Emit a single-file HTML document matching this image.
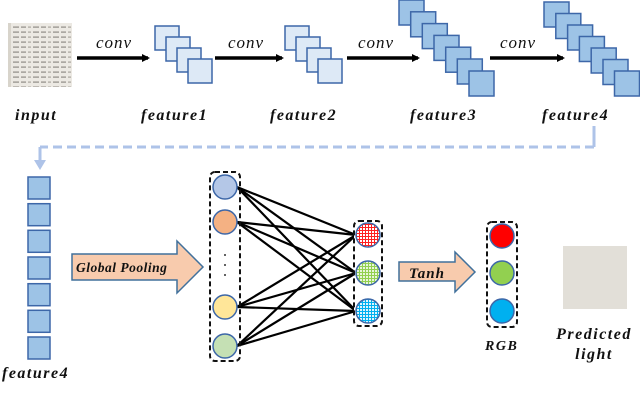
<!DOCTYPE html>
<html><head><meta charset="utf-8"><style>
html,body{margin:0;padding:0;background:#fff;width:640px;height:405px;overflow:hidden}
svg{display:block}
.lbl{font-family:"Liberation Serif",serif;font-style:italic;font-weight:bold;font-size:16px;fill:#111;letter-spacing:1.5px}
.conv{font-family:"Liberation Serif",serif;font-style:italic;font-size:17px;fill:#111;letter-spacing:1px}
</style></head><body>
<svg width="640" height="405" viewBox="0 0 640 405" xmlns="http://www.w3.org/2000/svg">
<defs>
<marker id="ah" markerWidth="8" markerHeight="8" refX="6" refY="4" orient="auto" markerUnits="userSpaceOnUse"><path d="M0,0 L8,4 L0,8 z" fill="#000"/></marker>
<pattern id="pr" width="3" height="3" patternUnits="userSpaceOnUse"><rect width="3" height="3" fill="#ff2020"/><rect x="0" y="0" width="2" height="2" fill="#fff"/></pattern>
<pattern id="pg" width="3" height="3" patternUnits="userSpaceOnUse"><rect width="3" height="3" fill="#92d050"/><rect x="0" y="0" width="2" height="2" fill="#e8f5dc"/></pattern>
<pattern id="pb" width="3" height="3" patternUnits="userSpaceOnUse"><rect width="3" height="3" fill="#00b0f0"/><rect x="0" y="0" width="2" height="2" fill="#e0f4fc"/></pattern>
<pattern id="txt" width="20" height="5" patternUnits="userSpaceOnUse"><rect width="20" height="5" fill="#ece9e3"/><rect x="1" y="1.5" width="5" height="1.2" fill="#8f8c86"/><rect x="8" y="1.5" width="3" height="1.2" fill="#a9a59e"/><rect x="13" y="1.5" width="6" height="1.2" fill="#8f8c86"/></pattern>
</defs>
<!-- input image -->
<rect x="8" y="23" width="64" height="64" fill="url(#txt)"/>
<rect x="8" y="23" width="3" height="64" fill="#d8d4cb"/>
<!-- arrows -->
<g stroke="#000" stroke-width="3.5" marker-end="url(#ah)">
<line x1="77" y1="58" x2="148" y2="58"/>
<line x1="215" y1="58" x2="282" y2="58"/>
<line x1="347" y1="58" x2="418" y2="58"/>
<line x1="490" y1="58" x2="563" y2="58"/>
</g>
<text class="conv" x="96" y="48">conv</text>
<text class="conv" x="228" y="48">conv</text>
<text class="conv" x="358" y="48">conv</text>
<text class="conv" x="500" y="48">conv</text>
<g fill="#dde9f6" stroke="#3d67a8" stroke-width="1.5">
<rect x="155" y="26" width="24" height="24"/><rect x="166" y="37" width="24" height="24"/><rect x="177" y="48" width="24" height="24"/><rect x="188" y="59" width="24" height="24"/>
<rect x="285" y="26" width="24" height="24"/><rect x="296" y="37" width="24" height="24"/><rect x="307" y="48" width="24" height="24"/><rect x="318" y="59" width="24" height="24"/>
</g>
<g fill="#9dc3e6" stroke="#3d67a8" stroke-width="1.5">
<rect x="399" y="0" width="25" height="25"/><rect x="410.7" y="11.8" width="25" height="25"/><rect x="422.3" y="23.6" width="25" height="25"/><rect x="434" y="35.4" width="25" height="25"/><rect x="445.7" y="47.2" width="25" height="25"/><rect x="457.3" y="59" width="25" height="25"/><rect x="469" y="71" width="25" height="25"/>
<rect x="544" y="2" width="25" height="25"/><rect x="555.8" y="13.5" width="25" height="25"/><rect x="567.6" y="25" width="25" height="25"/><rect x="579.4" y="36.5" width="25" height="25"/><rect x="591.2" y="48" width="25" height="25"/><rect x="603" y="59.5" width="25" height="25"/><rect x="614.5" y="71" width="25" height="25"/>
</g>
<text class="lbl" x="15" y="120">input</text>
<text class="lbl" x="141" y="120">feature1</text>
<text class="lbl" x="270" y="120">feature2</text>
<text class="lbl" x="410" y="120">feature3</text>
<text class="lbl" x="542" y="120">feature4</text>
<g stroke="#aec3e8" stroke-width="3" fill="none">
<line x1="594" y1="126" x2="594" y2="147"/>
<line x1="594" y1="147" x2="40" y2="147" stroke-dasharray="9,5"/>
<line x1="40" y1="147" x2="40" y2="162"/>
</g>
<path d="M34,160 L46,160 L40,170 z" fill="#aec3e8"/>
<g fill="#9dc3e6" stroke="#3d67a8" stroke-width="1.5">
<rect x="28" y="177" width="22" height="22"/><rect x="28" y="203.7" width="22" height="22"/><rect x="28" y="230.3" width="22" height="22"/><rect x="28" y="257" width="22" height="22"/><rect x="28" y="283.7" width="22" height="22"/><rect x="28" y="310.3" width="22" height="22"/><rect x="28" y="337" width="22" height="22"/>
</g>
<text class="lbl" x="2" y="378">feature4</text>
<path d="M72,254 L177,254 L177,241 L203,267 L177,293 L177,280 L72,280 z" fill="#f8cbad" stroke="#41719c" stroke-width="1.5"/>
<text x="76" y="272" style="font-family:'Liberation Serif',serif;font-style:italic;font-weight:bold;font-size:13.5px;fill:#111;letter-spacing:0.5px">Global Pooling</text>
<g stroke="#000" stroke-width="2.2">
<line x1="237" y1="187" x2="356" y2="235"/><line x1="237" y1="187" x2="356" y2="273"/><line x1="237" y1="187" x2="356" y2="311"/>
<line x1="237" y1="222" x2="356" y2="235"/><line x1="237" y1="222" x2="356" y2="273"/><line x1="237" y1="222" x2="356" y2="311"/>
<line x1="237" y1="307" x2="356" y2="235"/><line x1="237" y1="307" x2="356" y2="273"/><line x1="237" y1="307" x2="356" y2="311"/>
<line x1="237" y1="346" x2="356" y2="235"/><line x1="237" y1="346" x2="356" y2="273"/><line x1="237" y1="346" x2="356" y2="311"/>
</g>
<rect x="210" y="172" width="30" height="189" rx="5" fill="none" stroke="#111" stroke-width="2" stroke-dasharray="5,3"/>
<g stroke="#3d67a8" stroke-width="1.5">
<circle cx="225" cy="187" r="12" fill="#b4c7e7"/>
<circle cx="225" cy="222" r="12" fill="#f4b183"/>
<circle cx="225" cy="307" r="12" fill="#ffe699"/>
<circle cx="225" cy="346" r="12" fill="#c5e0b4"/>
</g>
<g fill="#333"><circle cx="225" cy="255" r="1"/><circle cx="225" cy="265" r="1"/><circle cx="225" cy="275" r="1"/></g>
<rect x="354" y="221" width="28" height="105" rx="5" fill="#fff" stroke="#111" stroke-width="2" stroke-dasharray="5,3"/>
<g stroke="#3d67a8" stroke-width="1.5">
<circle cx="368" cy="235" r="12" fill="url(#pr)"/>
<circle cx="368" cy="273" r="12" fill="url(#pg)"/>
<circle cx="368" cy="311" r="12" fill="url(#pb)"/>
</g>
<path d="M399,262 L455,262 L455,252 L475,272 L455,292 L455,281 L399,281 z" fill="#f8cbad" stroke="#41719c" stroke-width="1.5"/>
<text x="409" y="278" style="font-family:'Liberation Serif',serif;font-style:italic;font-weight:bold;font-size:15px;fill:#111;letter-spacing:1px">Tanh</text>
<rect x="487" y="222" width="30" height="105" rx="5" fill="none" stroke="#111" stroke-width="2" stroke-dasharray="5,3"/>
<g stroke="#3d67a8" stroke-width="1.5">
<circle cx="502" cy="236" r="12" fill="#ff0000"/>
<circle cx="502" cy="273" r="12" fill="#92d050"/>
<circle cx="502" cy="311" r="12" fill="#00b0f0"/>
</g>
<text class="lbl" x="485" y="350" style="font-size:14px">RGB</text>
<rect x="563" y="246" width="64" height="63" fill="#e2dfd8"/>
<text class="lbl" x="594" y="339" text-anchor="middle">Predicted</text>
<text class="lbl" x="594" y="359" text-anchor="middle">light</text>
</svg>
</body></html>
